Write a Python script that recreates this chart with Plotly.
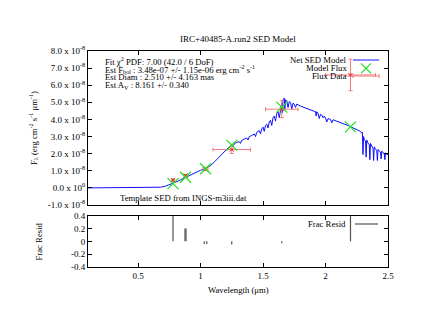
import plotly.graph_objects as go

# ---- data ----
spec_wl = [0.10, 0.30, 0.50, 0.60, 0.64, 0.68, 0.72, 0.76, 0.78, 0.80, 0.84, 0.88, 0.92, 0.96,
           1.00, 1.04, 1.08, 1.12, 1.15, 1.18, 1.20, 1.22, 1.24, 1.25, 1.26, 1.27, 1.29, 1.31,
           1.32, 1.33, 1.35, 1.37, 1.38, 1.39, 1.41, 1.43, 1.44, 1.45, 1.47, 1.48, 1.49, 1.50,
           1.51, 1.52, 1.53, 1.54, 1.55, 1.56, 1.57, 1.58, 1.59, 1.60, 1.61, 1.62, 1.63, 1.64,
           1.65, 1.655, 1.66, 1.67, 1.675, 1.68, 1.69, 1.70, 1.71, 1.72, 1.73, 1.74, 1.75, 1.76,
           1.77, 1.78, 1.79, 1.80, 1.92, 1.925, 1.93, 1.94, 1.95, 1.96, 1.97, 1.98, 1.99, 2.00,
           2.01, 2.02, 2.04, 2.05, 2.06, 2.08, 2.10, 2.12, 2.14, 2.16, 2.18, 2.20, 2.22, 2.24,
           2.26, 2.27, 2.28, 2.29, 2.295, 2.30, 2.305, 2.31, 2.32, 2.325, 2.33, 2.34, 2.35,
           2.355, 2.36, 2.37, 2.38, 2.385, 2.39, 2.40, 2.41, 2.415, 2.42, 2.43, 2.44, 2.445,
           2.45, 2.46, 2.47, 2.475, 2.48, 2.49, 2.50]
spec_flux = [0.00, 0.00, 0.00, 0.00, 0.01, 0.04, 0.10, 0.20, 0.26, 0.33, 0.47, 0.62, 0.77, 0.91,
             1.03, 1.13, 1.30, 1.58, 1.82, 2.05, 2.20, 2.33, 2.45, 2.48, 2.40, 2.58, 2.66, 2.70,
             2.60, 2.78, 2.85, 2.92, 2.80, 3.00, 3.06, 3.15, 3.00, 3.25, 3.35, 3.15, 3.45, 3.55,
             3.30, 3.65, 3.72, 3.50, 3.85, 3.95, 3.65, 4.10, 4.20, 3.90, 4.35, 4.45, 4.10, 4.70,
             4.95, 4.40, 5.15, 5.25, 4.60, 5.15, 5.10, 4.70, 5.05, 5.00, 4.60, 4.95, 4.90, 4.70,
             4.90, 4.85, 4.80, 4.78, 4.45, 4.20, 4.45, 4.38, 4.05, 4.30, 4.25, 4.10, 4.20, 4.08,
             3.85, 4.05, 4.00, 3.80, 3.98, 3.93, 3.88, 3.83, 3.78, 3.72, 3.65, 3.58, 3.52, 3.45,
             3.38, 3.33, 3.30, 3.20, 3.25, 1.95, 3.00, 2.80, 2.75, 1.80, 2.80, 2.60, 2.55,
             1.65, 2.60, 2.40, 2.30, 1.60, 2.40, 2.25, 2.20, 1.60, 2.25, 2.15, 2.10, 1.70,
             2.15, 2.05, 2.00, 1.65, 2.05, 1.95, 1.95]
scale = 1e-8

flux_wl = [0.78, 0.88, 1.04, 1.25, 1.65, 2.20]
flux_val = [0.45, 0.72, 1.10, 2.24, 4.60, 6.60]
flux_err = [0.08, 0.06, 0.08, 0.23, 0.49, 0.92]
flux_wl_err = [0.01, 0.01, 0.02, 0.15, 0.13, 0.20]

model_flux = [0.25, 0.62, 1.12, 2.50, 4.72, 3.57]

resid_wl = [0.78, 0.876, 0.884, 1.03, 1.05, 1.25, 1.65, 2.20]
resid_val = [0.45, 0.20, 0.20, -0.04, -0.04, -0.05, -0.03, 0.46]

ytick_vals = [-1, 0, 1, 2, 3, 4, 5, 6, 7, 8]
ytick_text = ["-1.0 x 10<sup>-8</sup>", "0.0 x 10<sup>0</sup>", "1.0 x 10<sup>-8</sup>",
              "2.0 x 10<sup>-8</sup>", "3.0 x 10<sup>-8</sup>", "4.0 x 10<sup>-8</sup>",
              "5.0 x 10<sup>-8</sup>", "6.0 x 10<sup>-8</sup>", "7.0 x 10<sup>-8</sup>",
              "8.0 x 10<sup>-8</sup>"]
rtick_vals = [-0.4, -0.2, 0, 0.2, 0.4]
rtick_text = ["-0.4", "-0.2", "0", "0.2", "0.4"]
xtick_vals = [0.5, 1, 1.5, 2, 2.5]
xtick_text = ["0.5", "1", "1.5", "2", "2.5"]

FONT = "Liberation Serif"
FS = 9
AFS = 8.7

fig = go.Figure()

fig.add_trace(go.Scatter(x=spec_wl, y=[v * scale for v in spec_flux], mode="lines",
                         line=dict(color="#1010ff", width=1), xaxis="x", yaxis="y",
                         showlegend=False))
fig.add_trace(go.Scatter(x=flux_wl, y=[v * scale for v in flux_val], mode="markers",
                         marker=dict(symbol="x-thin-open", size=4, color="#e02020",
                                     line=dict(width=1, color="#e02020")),
                         error_y=dict(type="data", array=[v * scale for v in flux_err],
                                      color="#f47a7a", thickness=1, width=2),
                         error_x=dict(type="data", array=flux_wl_err,
                                      color="#f47a7a", thickness=1, width=2),
                         xaxis="x", yaxis="y", showlegend=False))
fig.add_trace(go.Scatter(x=flux_wl, y=[v * scale for v in model_flux], mode="markers",
                         marker=dict(symbol="x-thin-open", size=11, color="#22e022",
                                     line=dict(width=1.2, color="#22e022")),
                         xaxis="x", yaxis="y", showlegend=False))

rx, ry = [], []
for w, r in zip(resid_wl, resid_val):
    rx += [w, w, None]
    ry += [0, r, None]
fig.add_trace(go.Scatter(x=rx, y=ry, mode="lines", line=dict(color="#505050", width=1.2),
                         xaxis="x2", yaxis="y2", showlegend=False))

axis_common = dict(showline=True, linecolor="black", linewidth=1, mirror="ticks",
                   ticks="inside", ticklen=4, tickcolor="black", showgrid=False,
                   zeroline=False, tickfont=dict(family=FONT, size=FS, color="black"))

top_dom = [0.287, 1.0]
bot_dom = [0.0, 0.2375]

fig.update_layout(
    width=421, height=325,
    margin=dict(l=88, r=33, t=51, b=58),
    paper_bgcolor="white", plot_bgcolor="white",
    font=dict(family=FONT, size=AFS, color="black"),
    showlegend=False,
    xaxis=dict(domain=[0, 1], anchor="y", range=[0.1, 2.5], tickvals=xtick_vals,
               showticklabels=False, **axis_common),
    yaxis=dict(domain=top_dom, anchor="x", range=[-1e-8, 8e-8],
               tickvals=[v * scale for v in ytick_vals], ticktext=ytick_text, **axis_common),
    xaxis2=dict(domain=[0, 1], anchor="y2", range=[0.1, 2.5], tickvals=xtick_vals,
                ticktext=xtick_text, **axis_common),
    yaxis2=dict(domain=bot_dom, anchor="x2", range=[-0.4, 0.4], tickvals=rtick_vals,
                ticktext=rtick_text, **axis_common),
)

def px(x):
    return (x - 88) / 300.0

def py(y):
    return (267 - y) / 216.0

ann = []
ann.append(dict(text="IRC+40485-A.run2 SED Model", x=px(238), y=py(39), xref="paper",
                yref="paper", showarrow=False, xanchor="center", yanchor="middle",
                font=dict(size=9)))
info = ["Fit χ<sup>2</sup> PDF: 7.00 (42.0 / 6 DoF)",
        "Est F<sub>bol</sub> : 3.48e-07 +/- 1.15e-06 erg cm<sup>-2</sup> s<sup>-1</sup>",
        "Est Diam : 2.510 +/- 4.163 mas",
        "Est A<sub>V</sub> : 8.161 +/- 0.340"]
for i, t in enumerate(info):
    ann.append(dict(text=t, x=px(102.5), y=py(61 + 8.2 * i), xref="paper", yref="paper",
                    showarrow=False, xanchor="left", yanchor="middle"))
for t, yy in [("Net SED Model", 60), ("Model Flux", 68.3), ("Flux Data", 76)]:
    ann.append(dict(text=t, x=px(349), y=py(yy), xref="paper", yref="paper",
                    showarrow=False, xanchor="right", yanchor="middle"))
ann.append(dict(text="Template SED from INGS-m3iii.dat", x=px(183), y=py(198), xref="paper",
                yref="paper", showarrow=False, xanchor="center", yanchor="middle"))
ann.append(dict(text="Frac Resid", x=px(348), y=py(224), xref="paper", yref="paper",
                showarrow=False, xanchor="right", yanchor="middle"))
ann.append(dict(text="F<sub>λ</sub> (erg cm<sup>-2</sup> s<sup>-1</sup> μm<sup>-1</sup>)",
                x=px(33), y=py(128), xref="paper", yref="paper", textangle=-90,
                showarrow=False, xanchor="center", yanchor="middle"))
ann.append(dict(text="Frac Resid", x=px(38), y=py(241.5), xref="paper", yref="paper",
                textangle=-90, showarrow=False, xanchor="center", yanchor="middle"))
ann.append(dict(text="Wavelength (μm)", x=px(238), y=py(290), xref="paper", yref="paper",
                showarrow=False, xanchor="center", yanchor="middle"))
fig.update_layout(annotations=ann)

shapes = []
# legend samples
shapes.append(dict(type="line", xref="paper", yref="paper", x0=px(353), x1=px(379),
                   y0=py(60), y1=py(60), line=dict(color="#1010ff", width=1)))
shapes.append(dict(type="line", xref="paper", yref="paper", x0=px(361), x1=px(371),
                   y0=py(63.3), y1=py(73.3), line=dict(color="#22e022", width=1.2)))
shapes.append(dict(type="line", xref="paper", yref="paper", x0=px(361), x1=px(371),
                   y0=py(73.3), y1=py(63.3), line=dict(color="#22e022", width=1.2)))
shapes.append(dict(type="line", xref="paper", yref="paper", x0=px(353), x1=px(379),
                   y0=py(76), y1=py(76), line=dict(color="#f47a7a", width=1)))
shapes.append(dict(type="line", xref="paper", yref="paper", x0=px(379), x1=px(379),
                   y0=py(74), y1=py(78), line=dict(color="#f47a7a", width=1)))
shapes.append(dict(type="line", xref="paper", yref="paper", x0=px(353), x1=px(353),
                   y0=py(74), y1=py(78), line=dict(color="#f47a7a", width=1)))
shapes.append(dict(type="line", xref="paper", yref="paper", x0=px(355), x1=px(378),
                   y0=py(224), y1=py(224), line=dict(color="#505050", width=1.2)))
fig.update_layout(shapes=shapes)

fig.write_html("out.html", config={"displayModeBar": False},
               post_script="document.body.style.margin='0';document.body.style.overflow='hidden';")
